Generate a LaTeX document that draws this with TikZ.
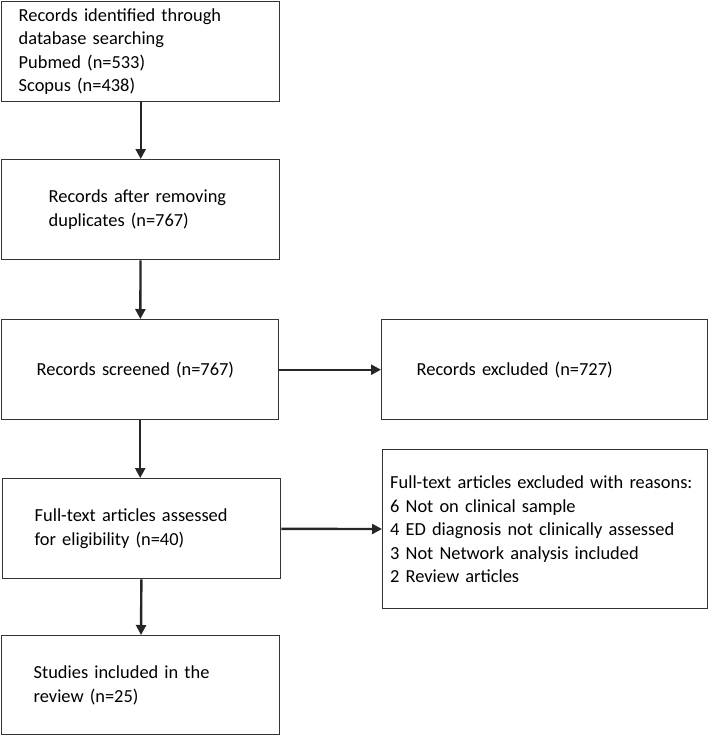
\documentclass[tikz,border=0pt]{standalone}
\usepackage{fontspec}
\setmainfont{Carlito}
\usetikzlibrary{arrows.meta}
\begin{document}
\begin{tikzpicture}[x=1pt,y=-1pt,
	box/.style={draw=black!80,line width=1.4pt,align=left,anchor=north west,
		inner ysep=0pt,font=\fontsize{18.4}{23.5}\selectfont},
	link/.style={-{Triangle[width=10pt,length=10pt]},line width=2.4pt,color=black!85}]
\useasboundingbox (0,0) rectangle (709,736);
\node[box,minimum width=278pt,minimum height=100pt,inner xsep=17pt,text width=244pt] (ident) at (1,1)
	{Records identified through\\database searching\\Pubmed (n=533)\\Scopus (n=438)};
\node[box,minimum width=278pt,minimum height=100pt,inner xsep=47pt,text width=184pt] (dupl) at (1,159)
	{Records after removing\\duplicates (n=767)};
\node[box,minimum width=277pt,minimum height=100pt,inner xsep=35pt,text width=207pt] (screen) at (1,319)
	{Records screened (n=767)};
\node[box,minimum width=326pt,minimum height=100pt,inner xsep=35pt,text width=256pt] (excl) at (381,319)
	{Records excluded (n=727)};
\node[box,minimum width=278pt,minimum height=100pt,inner xsep=32pt,text width=214pt] (full) at (2,478)
	{Full-text articles assessed\\for eligibility (n=40)};
\node[box,minimum width=325pt,minimum height=159pt,inner xsep=7.5pt,text width=310pt] (reason) at (382,449)
	{Full-text articles excluded with reasons:\\6 Not on clinical sample\\4 ED diagnosis not clinically assessed\\3 Not Network analysis included\\2 Review articles};
\node[box,minimum width=278pt,minimum height=99pt,inner xsep=32pt,text width=214pt] (incl) at (1,635)
	{Studies included in the\\review (n=25)};
% arrows
\draw[link] (ident) -- (dupl);
\draw[link] (dupl) -- (screen);
\draw[link] (screen.south) -- (screen.south |- full.north);
\draw[link] (full) -- (incl);
\draw[link] (screen) -- (excl);
\draw[link] (full) -- (reason);
\end{tikzpicture}
\end{document}
